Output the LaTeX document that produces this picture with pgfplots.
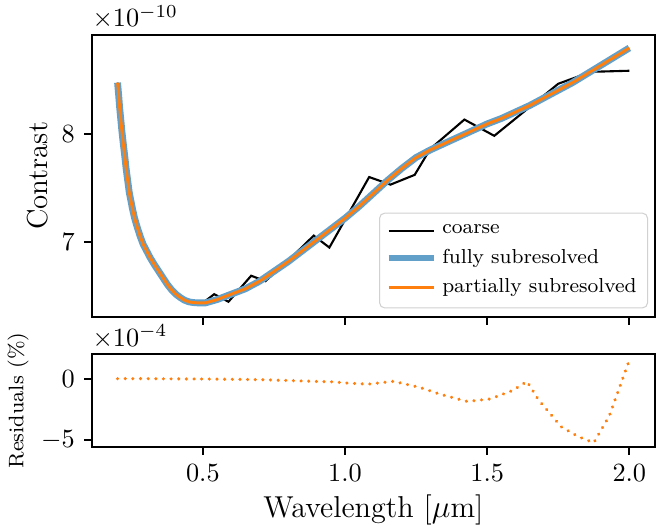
\documentclass[border=0pt]{standalone}
\usepackage{pgfplots}
\pgfplotsset{compat=1.18}
\definecolor{fullblue}{RGB}{98,160,202}
\definecolor{mplorange}{RGB}{255,127,14}

% smooth curve (fully / partially subresolved), contrast in 1e-10
\pgfplotstableread{
x y
0.200 8.47
0.204 8.35
0.207 8.25
0.211 8.14
0.215 8.03
0.220 7.91
0.225 7.80
0.230 7.68
0.236 7.56
0.241 7.46
0.247 7.38
0.253 7.30
0.260 7.22
0.270 7.13
0.280 7.05
0.290 6.98
0.300 6.93
0.315 6.855
0.330 6.79
0.345 6.73
0.360 6.67
0.375 6.61
0.390 6.56
0.405 6.52
0.420 6.49
0.435 6.465
0.450 6.45
0.465 6.443
0.480 6.44
0.510 6.44
0.550 6.47
0.600 6.52
0.650 6.57
0.700 6.64
0.750 6.73
0.800 6.82
0.850 6.92
0.900 7.02
0.950 7.12
1.000 7.22
1.050 7.33
1.100 7.45
1.150 7.57
1.200 7.68
1.250 7.78
1.300 7.85
1.350 7.91
1.400 7.97
1.450 8.03
1.500 8.09
1.550 8.14
1.600 8.20
1.650 8.26
1.700 8.33
1.750 8.40
1.800 8.47
1.850 8.55
1.900 8.63
1.950 8.71
2.000 8.79
}\smooth

\pgfplotstableread{
x y
0.200 8.47
0.207 8.25
0.215 8.03
0.225 7.80
0.236 7.56
0.247 7.38
0.260 7.22
0.280 7.05
0.300 6.93
0.330 6.79
0.360 6.67
0.390 6.56
0.420 6.49
0.450 6.45
0.500 6.44
0.540 6.52
0.590 6.45
0.670 6.69
0.720 6.64
0.800 6.83
0.890 7.06
0.945 6.95
1.085 7.60
1.160 7.53
1.245 7.62
1.300 7.86
1.420 8.13
1.525 7.98
1.680 8.31
1.750 8.46
1.865 8.57
2.000 8.58
}\coarse

% residuals in 1e-4 %
\pgfplotstableread{
x y
0.20 0.00
0.30 0.00
0.40 -0.02
0.50 -0.03
0.60 -0.05
0.70 -0.08
0.80 -0.15
0.89 -0.22
0.95 -0.25
1.01 -0.36
1.08 -0.45
1.17 -0.22
1.26 -0.69
1.34 -1.30
1.43 -1.85
1.51 -1.65
1.59 -0.96
1.64 -0.22
1.68 -1.70
1.76 -3.90
1.82 -4.70
1.875 -5.20
1.93 -3.00
2.00 1.50
}\resid

\pgfplotsset{
  myaxis/.style={
    scale only axis,
    width=214.2pt,
    xmin=0.11, xmax=2.09,
    xtick={0.5,1.0,1.5,2.0},
    tick align=outside,
    xtick pos=left, ytick pos=left,
    major tick length=3pt,
    axis line style={line width=0.7pt},
    every tick/.style={black, line width=0.7pt},
    tick label style={font=\fontsize{10}{12}\selectfont},
    clip=false,
  },
}

\begin{document}
\begin{tikzpicture}
\begin{axis}[myaxis, name=top, at={(0,0)}, anchor=north west,
  height=107.3pt,
  ymin=6.31, ymax=8.91, ytick={7,8},
  xticklabels={},
  ylabel={Contrast},
  ylabel style={at={(axis description cs:-0.096,0.5)}, anchor=center, font=\fontsize{11}{13}\selectfont},
  legend cell align=left,
  legend style={at={(rel axis cs:0.988,0.03)}, anchor=south east,
    font=\fontsize{7.7}{9}\selectfont, draw=black!18, rounded corners=2pt,
    fill=white, fill opacity=0.8, text opacity=1, row sep=0.5pt, inner sep=2.2pt},
]
\addplot[black, line width=0.8pt] table[x=x,y=y] {\coarse};
\addlegendentry{coarse}
\addplot[fullblue, line width=2.6pt] table[x=x,y=y] {\smooth};
\addlegendentry{fully subresolved}
\addplot[mplorange, line width=1.1pt] table[x=x,y=y] {\smooth};
\addlegendentry{partially subresolved}
\node[anchor=south west, inner sep=0pt, yshift=2pt, font=\fontsize{10}{12}\selectfont] at (rel axis cs:0,1) {$\times10^{-10}$};
\end{axis}

\begin{axis}[myaxis, at={(0,-121.4pt)}, anchor=north west,
  height=35.4pt,
  ymin=-5.55, ymax=2.0, ytick={-5,0},
  xticklabel style={/pgf/number format/.cd, fixed, fixed zerofill, precision=1},
  xlabel={Wavelength [$\mu$m]},
  xlabel style={at={(axis description cs:0.5,-0.68)}, anchor=center, font=\fontsize{11.5}{13}\selectfont},
  ylabel={Residuals (\%)},
  ylabel style={at={(axis description cs:-0.131,0.5)}, anchor=center, font=\fontsize{8}{9.6}\selectfont},
]
\addplot[mplorange, line width=1.3pt, line cap=round, dash pattern=on 0.01pt off 2.9pt] table[x=x,y=y] {\resid};
\node[anchor=south west, inner sep=0pt, yshift=2pt, font=\fontsize{10}{12}\selectfont] at (rel axis cs:0,1) {$\times10^{-4}$};
\end{axis}

\pgfresetboundingbox
\path[use as bounding box] (-35pt,13.3pt) rectangle (215pt,-188.7pt);
\end{tikzpicture}
\end{document}
